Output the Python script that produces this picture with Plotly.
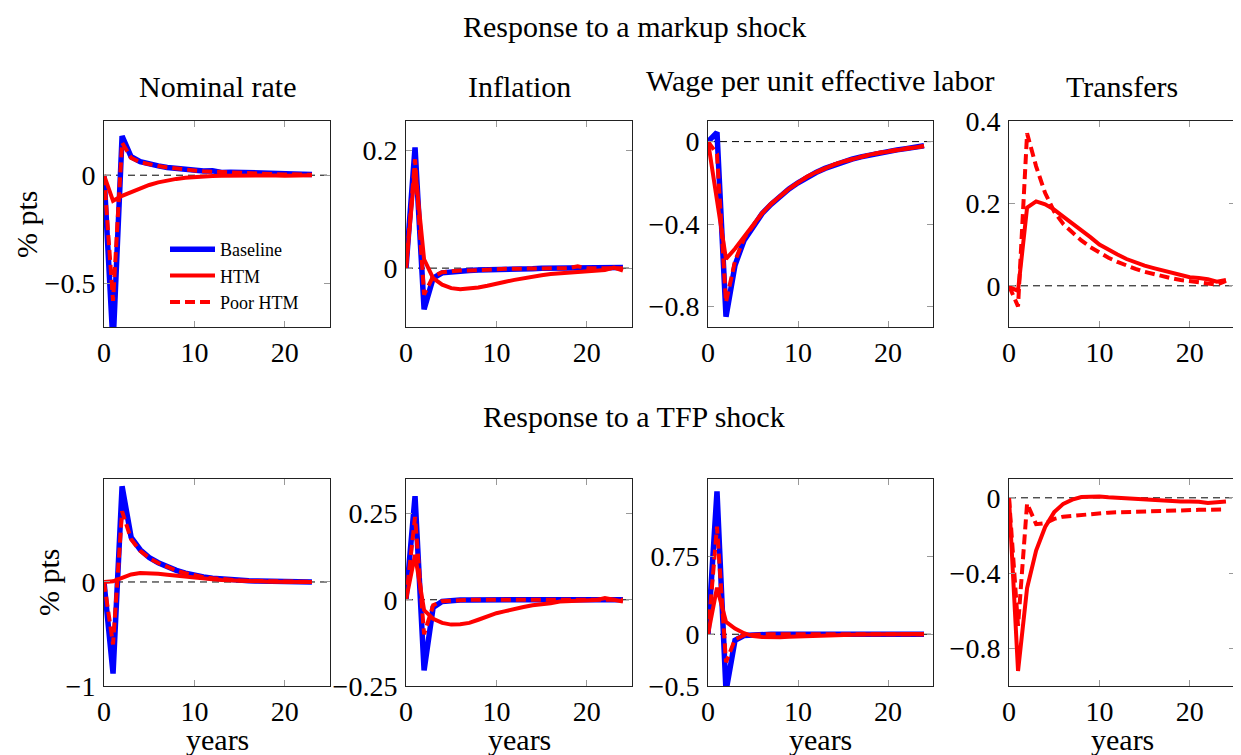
import plotly.graph_objects as go
from plotly.subplots import make_subplots

# ---------------- data ----------------
t_short = list(range(24))   # 0..23
t_long = list(range(25))    # 0..24

# Response to a markup shock
nom_m_base = [0, -0.78, 0.18, 0.085, 0.062, 0.05, 0.043, 0.036, 0.031, 0.027, 0.023, 0.019, 0.02, 0.013,
              0.014, 0.012, 0.01, 0.012, 0.007, 0.005, 0.002, 0.006, 0.005, 0.003]
nom_m_poor = [0, -0.58, 0.15, 0.08, 0.06, 0.05, 0.042, 0.036, 0.03, 0.026, 0.022, 0.018, 0.016, 0.013,
              0.012, 0.01, 0.009, 0.009, 0.006, 0.004, 0.003, 0.004, 0.003, 0.002]
nom_m_htm = [0, -0.118, -0.095, -0.077, -0.06, -0.045, -0.033, -0.024, -0.017, -0.012, -0.008, -0.006,
             -0.004, -0.003, -0.002, -0.002, -0.001, -0.001, -0.001, -0.001, -0.002, 0.0, 0.0, 0.0]

inf_m_base = [0, 0.205, -0.07, -0.017, -0.008, -0.006, -0.005, -0.004, -0.003, -0.003, -0.002, -0.001,
              -0.001, -0.001, -0.001, 0, 0, 0, 0, 0.001, 0, 0, 0, 0.001, 0.001]
inf_m_poor = [0, 0.185, -0.045, -0.014, -0.007, -0.005, -0.004, -0.004, -0.003, -0.002, -0.002, -0.001,
              -0.001, -0.001, 0, 0, 0, 0, 0, 0.003, 0, 0, 0, 0.001, 0]
inf_m_htm = [0, 0.17, 0.015, -0.017, -0.028, -0.034, -0.036, -0.035, -0.033, -0.03, -0.026, -0.023,
             -0.02, -0.017, -0.014, -0.012, -0.01, -0.009, -0.008, -0.007, -0.006, -0.004, -0.003, 0.001, -0.004]

wage_m_base = [0, 0.045, -0.85, -0.6, -0.48, -0.41, -0.35, -0.305, -0.265, -0.23, -0.2, -0.172, -0.15,
               -0.13, -0.113, -0.098, -0.085, -0.074, -0.064, -0.055, -0.047, -0.04, -0.034, -0.028, -0.02]
wage_m_poor = [0, -0.06, -0.78, -0.58, -0.47, -0.405, -0.348, -0.303, -0.263, -0.229, -0.199, -0.171,
               -0.149, -0.129, -0.112, -0.097, -0.084, -0.073, -0.063, -0.054, -0.046, -0.04, -0.034, -0.028, -0.021]
wage_m_htm = [0, -0.28, -0.57, -0.52, -0.46, -0.402, -0.348, -0.302, -0.263, -0.229, -0.199, -0.171,
              -0.149, -0.129, -0.112, -0.097, -0.084, -0.073, -0.063, -0.055, -0.047, -0.041, -0.035, -0.029, -0.022]

tr_m_htm = [-0.003, -0.012, 0.19, 0.205, 0.198, 0.185, 0.168, 0.152, 0.137, 0.118, 0.1, 0.087, 0.076,
            0.065, 0.056, 0.049, 0.043, 0.037, 0.031, 0.026, 0.021, 0.019, 0.016, 0.01, 0.014]
tr_m_poor = [0, -0.05, 0.37, 0.29, 0.225, 0.18, 0.15, 0.13, 0.11, 0.094, 0.08, 0.068, 0.058, 0.049,
             0.041, 0.034, 0.028, 0.023, 0.018, 0.014, 0.011, 0.008, 0.006, 0.003, 0.012]

# Response to a TFP shock
nom_t_base = [0, -0.88, 0.92, 0.43, 0.31, 0.235, 0.185, 0.145, 0.112, 0.085, 0.063, 0.048, 0.037, 0.028,
              0.021, 0.016, 0.012, 0.009, 0.007, 0.005, 0.004, 0.003, 0.002, 0.001]
nom_t_poor = [0, -0.6, 0.68, 0.41, 0.3, 0.23, 0.182, 0.143, 0.11, 0.084, 0.062, 0.047, 0.036, 0.027,
              0.02, 0.015, 0.011, 0.009, 0.007, 0.005, 0.004, 0.003, 0.002, 0.001]
nom_t_htm = [0, 0.006, 0.04, 0.072, 0.087, 0.085, 0.079, 0.07, 0.06, 0.05, 0.04, 0.033, 0.026, 0.02,
             0.015, 0.011, 0.008, 0.006, 0.004, 0.003, 0.002, 0.001, 0.0, 0.0]

inf_t_base = [0, 0.3, -0.205, -0.022, -0.005, -0.002, -0.001, -0.001, 0, 0, 0, 0, 0, 0, 0, 0, 0, 0,
              0, 0, 0, 0, 0, 0, 0]
inf_t_poor = [0, 0.24, -0.1, -0.016, -0.004, -0.002, -0.001, 0, 0, 0, 0, 0, 0, 0, 0, 0, 0, 0, 0, 0,
              0, 0, 0, 0, 0]
inf_t_htm = [0, 0.13, -0.03, -0.055, -0.067, -0.072, -0.071, -0.067, -0.058, -0.047, -0.039, -0.033,
             -0.026, -0.021, -0.016, -0.014, -0.01, -0.005, -0.004, -0.003, -0.002, -0.001, 0.005, 0.001, -0.005]

wage_t_base = [0, 1.38, -0.55, -0.058, -0.012, -0.004, -0.002, 0, 0, 0, 0, 0, 0, 0, 0, 0, 0, 0, 0, 0,
               0, 0, 0, 0, 0]
wage_t_poor = [0, 1.04, -0.27, -0.05, -0.01, -0.003, -0.001, 0, 0, 0, 0, 0, 0, 0, 0, 0, 0, 0, 0, 0,
               0, 0, 0, 0, 0]
wage_t_htm = [0, 0.45, 0.12, 0.055, 0.01, -0.018, -0.027, -0.03, -0.028, -0.024, -0.02, -0.016, -0.013,
              -0.01, -0.008, -0.006, -0.004, -0.003, -0.002, -0.001, 0, 0.003, 0.01, 0.002, 0]

tr_t_htm = [0, -0.92, -0.48, -0.28, -0.155, -0.076, -0.032, -0.01, 0.004, 0.006, 0.007, 0.003, 0,
            -0.004, -0.007, -0.009, -0.012, -0.018, -0.019, -0.019, -0.02, -0.021, -0.028, -0.024, -0.02]
tr_t_poor = [0, -0.68, -0.03, -0.14, -0.135, -0.112, -0.1, -0.095, -0.09, -0.086, -0.082, -0.079,
             -0.077, -0.075, -0.073, -0.071, -0.069, -0.068, -0.067, -0.066, -0.065, -0.064, -0.063, -0.063, -0.062]

panel_titles = ["Nominal rate", "Inflation", "Wage per unit effective labor", "Transfers"]
row_titles = ["Response to a markup shock", "Response to a TFP shock"]
series_names = ["Baseline", "HTM", "Poor HTM"]

y_ranges = [[-0.7, 0.25], [-0.1, 0.25], [-0.9, 0.1], [-0.1, 0.4],
            [-1.0, 0.99], [-0.25, 0.35], [-0.5, 1.5], [-1.0, 0.1]]
y_tickvals = [[-0.5, 0], [0, 0.2], [-0.8, -0.4, 0], [0, 0.2, 0.4],
              [-1, 0], [-0.25, 0, 0.25], [-0.5, 0, 0.75], [-0.8, -0.4, 0]]
y_ticktext = [["\u22120.5", "0"], ["0", "0.2"], ["\u22120.8", "\u22120.4", "0"], ["0", "0.2", "0.4"],
              ["\u22121", "0"], ["\u22120.25", "0", "0.25"], ["\u22120.5", "0", "0.75"],
              ["\u22120.8", "\u22120.4", "0"]]
x_tickvals = [0, 10, 20]

panels = [
    (t_short, nom_m_base, nom_m_poor, nom_m_htm),
    (t_long, inf_m_base, inf_m_poor, inf_m_htm),
    (t_long, wage_m_base, wage_m_poor, wage_m_htm),
    (t_long, None, tr_m_poor, tr_m_htm),
    (t_short, nom_t_base, nom_t_poor, nom_t_htm),
    (t_long, inf_t_base, inf_t_poor, inf_t_htm),
    (t_long, wage_t_base, wage_t_poor, wage_t_htm),
    (t_long, None, tr_t_poor, tr_t_htm),
]

# ---------------- layout geometry (page pixels) ----------------
W, H = 1241, 755
OFF = 8  # page body margin


def px_x(px):
    return (px - OFF) / W


def px_y(py):
    return 1 - (py - OFF) / H


FONT = "Liberation Serif"
FS_TICK = 28
FS_TITLE = 30
col_px = [(104, 330), (406, 632), (708, 933), (1009, 1235)]
row_px = [(121, 327), (479, 686)]

fig = make_subplots(rows=2, cols=4)

BLUE = "rgb(0,0,255)"
RED = "rgb(255,0,0)"

for i, (t, base, poor, htm) in enumerate(panels):
    r, c = i // 4 + 1, i % 4 + 1
    first = (i == 0)
    if base is not None:
        fig.add_trace(go.Scatter(x=t, y=base, mode="lines", name=series_names[0],
                                 line=dict(color=BLUE, width=5.5), showlegend=first,
                                 legendgroup="b", legendrank=1), row=r, col=c)
    fig.add_trace(go.Scatter(x=t, y=poor, mode="lines", name=series_names[2],
                             line=dict(color=RED, width=4, dash="10px,5px"), showlegend=first,
                             legendgroup="p", legendrank=3), row=r, col=c)
    fig.add_trace(go.Scatter(x=t, y=htm, mode="lines", name=series_names[1],
                             line=dict(color=RED, width=4), showlegend=first,
                             legendgroup="h", legendrank=2), row=r, col=c)

    xd = [px_x(col_px[c - 1][0]), px_x(col_px[c - 1][1])]
    yd = [px_y(row_px[r - 1][1]), px_y(row_px[r - 1][0])]
    axis_common = dict(showline=True, linecolor="#222", linewidth=1, mirror="ticks",
                       ticks="inside", ticklen=6, tickcolor="#999", tickwidth=1,
                       showgrid=False, zeroline=False, automargin=False,
                       tickfont=dict(family=FONT, size=FS_TICK, color="black"))
    fig.update_xaxes(domain=xd, range=[0, 25], tickvals=x_tickvals, ticklabelstandoff=0,
                     **axis_common, row=r, col=c)
    fig.update_yaxes(domain=yd, range=y_ranges[i], tickvals=y_tickvals[i], ticktext=y_ticktext[i],
                     ticklabelstandoff=2, **axis_common, row=r, col=c)

    # dashed zero reference line
    sfx = "" if i == 0 else str(i + 1)
    fig.add_shape(type="line", xref="x" + sfx + " domain", yref="y" + sfx, x0=0, x1=1, y0=0, y1=0,
                  line=dict(color="black", width=1, dash="7px,5px"), layer="below")

annotations = []
annotations.append(dict(text=row_titles[0], x=px_x(634), y=1.0, yanchor="top"))
annotations.append(dict(text=row_titles[1], x=px_x(634), y=px_y(417)))
title_y = [86, 86, 80, 86]
for c in range(4):
    cx = px_x((col_px[c][0] + col_px[c][1]) / 2)
    annotations.append(dict(text=panel_titles[c], x=cx, y=px_y(title_y[c])))
    annotations.append(dict(text="years", x=cx, y=px_y(739)))
annotations.append(dict(text="% pts", x=px_x(27), y=px_y(224), textangle=-90))
annotations.append(dict(text="% pts", x=px_x(48), y=px_y(582), textangle=-90))
for a in annotations:
    a.setdefault("yanchor", "middle")
    a.update(xref="paper", yref="paper", xanchor="center", showarrow=False,
             font=dict(family=FONT, size=FS_TITLE, color="black"))

fig.update_layout(
    width=W, height=H, margin=dict(l=0, r=0, t=0, b=0, autoexpand=False),
    paper_bgcolor="white", plot_bgcolor="white",
    annotations=annotations,
    showlegend=True,
    legend=dict(x=px_x(165), y=px_y(231), xanchor="left", yanchor="top",
                bgcolor="rgba(0,0,0,0)", borderwidth=0, itemwidth=45,
                font=dict(family=FONT, size=18, color="black"),
                traceorder="grouped", tracegroupgap=0),
)

fig.write_html("out.html")
